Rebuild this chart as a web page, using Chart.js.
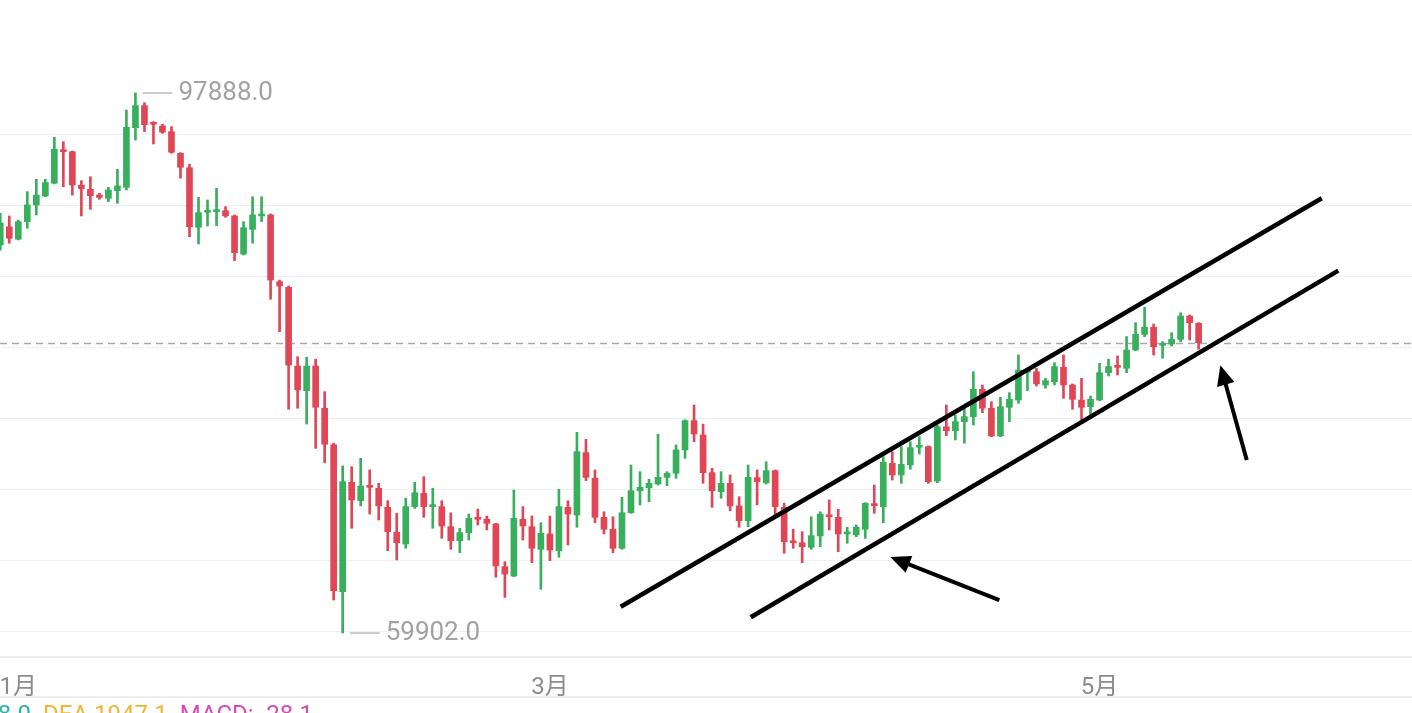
<!DOCTYPE html>
<html>
<head>
<meta charset="utf-8">
<script src="https://cdn.jsdelivr.net/npm/chart.js@4.4.1/dist/chart.umd.min.js"></script>
<style>
  html, body { margin: 0; padding: 0; background: #fff; }
  #wrap { width: 1412px; height: 713px; position: relative; }
</style>
</head>
<body>
<div id="wrap"><canvas id="kline"></canvas></div>
<script>
// daily candles, first one is 2 days before Jan 1
const firstDay = -2;
const opens = [87200,88480,87600,88840,90010,90640,91540,93880,93760,91400,91110,90710,90480,91020,91250,95450,97000,95760,95570,95170,
  93650,92630,88440,89500,89540,89610,89240,86560,88300,89240,89310,84610,84220,78680,76950,78680,75710,73130,62810,70500,
  69210,70240,70080,68740,66990,66160,68790,69730,68790,68790,67380,66390,66960,68040,67900,67570,64570,63910,67900,67380,
  65790,66870,65690,68740,68200,72590,70780,68040,67200,65860,68360,69910,70120,70380,70850,71140,72780,74840,73830,71180,
  69840,70430,68840,67800,70830,70470,71320,68740,66390,66250,65930,66730,68200,68040,66870,66800,67200,68980,68790,71840,
  71020,71720,72970,73010,70590,74410,74130,74770,75120,77050,75710,73760,75780,76290,78240,78280,77350,77580,78590,77350,
  76290,75820,76290,78210,78680,78520,79810,80910,81410,80140,80230,80560,82200,81690];
const highs = [89430,89240,88950,90950,91820,91820,94770,94460,93800,91720,92000,90830,91250,92520,96690,97888,97210,95870,95690,95520,
  93690,92870,90550,90360,91180,89890,89310,88840,90590,90590,89380,84730,84310,79340,79300,79160,76880,73250,71650,71600,
  72190,71370,70430,69210,68320,69380,70500,70900,70080,69210,68360,67270,68270,68620,68130,67620,64920,69960,68790,68130,
  67660,68130,70010,69210,74020,73530,71370,68430,68080,69450,71720,71250,70710,73880,71250,73130,74900,75940,74600,71490,
  71250,71020,69490,71720,71370,71950,71370,69030,67200,67030,68080,68430,69260,68600,67340,67500,69060,70310,72300,72660,
  73010,73360,73710,73060,74530,75940,75240,75820,78280,77350,76170,76480,76810,79460,78400,78520,77820,78920,79460,77420,
  77820,76570,78870,79160,79390,80750,81730,82810,81640,80390,81030,82430,82270,81730];
const lows = [86840,87320,87550,88370,89310,90590,91490,91300,90710,89240,89710,90410,90240,90130,91060,94580,95170,94300,95050,93650,
  91890,87780,87270,88530,88550,89140,86090,86490,87320,88840,83380,81100,75640,75710,74600,72890,71880,62220,59902,67270,
  68840,68270,67850,65690,65040,65860,68670,68040,67270,66560,65790,65550,66440,67500,67150,63820,62410,63860,66440,64850,
  62980,64990,65230,66090,67340,70620,67660,66870,65550,65790,68320,68910,69140,70310,70260,70780,72190,73360,70430,68740,
  69380,68500,67340,67380,68910,70380,68200,65510,65860,64850,65790,65970,67150,65620,66210,66680,66560,68320,67660,70660,
  70430,71420,72490,70430,70470,73780,73480,73250,74530,75400,73710,73710,74770,76060,76950,77280,77120,77350,76410,75640,
  74890,75240,76240,77980,78050,78210,79760,80750,79460,79230,80090,80390,80510,79860];
const closes = [88740,87670,88840,90010,90710,91580,93930,93760,91420,91160,90660,90550,91060,91350,95480,97000,95660,95690,95140,93720,
  92660,88480,89470,89610,89660,89240,86650,88410,89310,89360,84730,84310,78750,77000,78680,75780,73180,62880,70550,69260,
  70240,70150,68840,67030,66250,68790,69770,68790,68910,67430,66390,66960,67970,67900,67620,64620,64050,67970,67430,65860,
  66920,65740,68790,68270,72660,70850,68040,67200,65860,68360,69910,70150,70430,70850,71140,72780,74840,73900,71180,69910,
  70430,68840,67800,70850,70550,71320,68790,66320,66250,65970,66750,68270,68080,66870,66960,67340,69030,68860,71910,71020,
  71770,72940,73060,70550,74410,74130,74770,75120,77050,75710,73760,75820,76340,78400,78350,77420,77650,78640,77350,76340,
  75780,76340,78210,78640,78590,79810,80910,81410,80040,80230,80560,82200,81730,80323];

// x axis: day number counted from Jan 1
const monthTicks = [0, 59, 120];
const monthLabels = ["1月", "3月", "5月"];
const gridLevels = [60000, 65000, 70000, 75000, 80000, 85000, 90000, 95000];

// hand drawn channel and arrows, in (day, price)
const channelUpper = [{x: 66.86, y: 61750}, {x: 144.66, y: 90480}];
const channelLower = [{x: 81.29, y: 61010}, {x: 146.50, y: 85390}];
const arrowLeft = [{x: 108.88, y: 62220}, {x: 97.30, y: 65110}];
const arrowRight = [{x: 136.34, y: 72070}, {x: 133.56, y: 78400}];

const macdText = [
  { text: "DIF 1918.0", color: "#2bb3a3" },
  { text: "DEA 1947.1", color: "#f2b632" },
  { text: "MACD: -28.1", color: "#d849b4" }
];

const GREEN = "#37af5c", RED = "#e14656";
const FONT = 'Roboto, "Noto Sans CJK SC", sans-serif';

const xs = opens.map((_, i) => firstDay + i);
const colors = opens.map((o, i) => closes[i] >= o ? GREEN : RED);
const bodies = xs.map((x, i) => ({ x, y: [opens[i], closes[i]] }));
const wicks = xs.map((x, i) => ({ x, y: [lows[i], highs[i]] }));

const overlay = {
  id: "overlay",
  beforeDatasetsDraw(chart) {
    const { ctx, chartArea, scales: { y } } = chart;
    const py = Math.round(y.getPixelForValue(closes[closes.length - 1])) + 0.5;
    ctx.save();
    ctx.strokeStyle = "#a8a8a8";
    ctx.lineWidth = 1.5;
    ctx.setLineDash([7, 5]);
    ctx.beginPath();
    ctx.moveTo(chartArea.left, py);
    ctx.lineTo(chartArea.right, py);
    ctx.stroke();
    ctx.restore();
  },
  afterDatasetsDraw(chart) {
    const { ctx, scales: { x, y } } = chart;
    // arrow heads
    chart.data.datasets.forEach((ds, i) => {
      if (!ds.arrow) return;
      const pts = chart.getDatasetMeta(i).data;
      const a = pts[0], b = pts[1];
      const ang = Math.atan2(b.y - a.y, b.x - a.x);
      const tx = b.x + Math.cos(ang) * 5, ty = b.y + Math.sin(ang) * 5;
      const len = 20, half = 9;
      const bx = tx - Math.cos(ang) * len, by = ty - Math.sin(ang) * len;
      ctx.save();
      ctx.fillStyle = "#000";
      ctx.beginPath();
      ctx.moveTo(tx, ty);
      ctx.lineTo(bx - Math.sin(ang) * half, by + Math.cos(ang) * half);
      ctx.lineTo(bx + Math.sin(ang) * half, by - Math.cos(ang) * half);
      ctx.closePath();
      ctx.fill();
      ctx.restore();
    });
    // max / min labels
    const hi = highs.indexOf(Math.max(...highs));
    const lo = lows.indexOf(Math.min(...lows));
    const marks = [[xs[hi], highs[hi]], [xs[lo], lows[lo]]];
    ctx.save();
    ctx.font = "26px " + FONT;
    ctx.textBaseline = "middle";
    ctx.fillStyle = "#a2a2a2";
    ctx.strokeStyle = "#bdbdbd";
    ctx.lineWidth = 1.5;
    marks.forEach(([d, v]) => {
      const px = x.getPixelForValue(d), py = y.getPixelForValue(v);
      ctx.beginPath();
      ctx.moveTo(px + 7, py);
      ctx.lineTo(px + 37, py);
      ctx.stroke();
      ctx.fillText(v.toFixed(1), px + 43, py + 1);
    });
    ctx.restore();
  },
  afterDraw(chart) {
    const { ctx, chartArea, width } = chart;
    const ly = chartArea.bottom + 40;
    ctx.save();
    ctx.strokeStyle = "#eeeeee";
    ctx.lineWidth = 2;
    ctx.beginPath();
    ctx.moveTo(0, ly);
    ctx.lineTo(width, ly);
    ctx.stroke();
    ctx.font = "24px " + FONT;
    ctx.textBaseline = "top";
    let cx = 31 - ctx.measureText(macdText[0].text).width;
    macdText.forEach(t => {
      ctx.fillStyle = t.color;
      ctx.fillText(t.text, cx, ly + 7);
      cx += ctx.measureText(t.text).width + 12;
    });
    ctx.restore();
  }
};

function lineSet(data, arrow) {
  return { type: "line", data, borderColor: "#000", borderWidth: arrow ? 4 : 4.5, pointRadius: 0,
    borderCapStyle: "butt", order: 0, arrow };
}

new Chart(document.getElementById("kline"), {
  type: "bar",
  data: {
    datasets: [
      lineSet(channelUpper, false),
      lineSet(channelLower, false),
      lineSet(arrowLeft, true),
      lineSet(arrowRight, true),
      { data: bodies, backgroundColor: colors, barThickness: 6, minBarLength: 2, grouped: false, order: 1 },
      { data: wicks, backgroundColor: colors, barThickness: 2, grouped: false, order: 2 }
    ]
  },
  options: {
    responsive: true,
    maintainAspectRatio: false,
    animation: false,
    events: [],
    layout: { padding: 0, autoPadding: false },
    plugins: { legend: { display: false }, tooltip: { enabled: false } },
    scales: {
      x: {
        type: "linear",
        offset: false,
        min: -2.031,
        max: 154.68,
        grid: { display: false },
        border: { display: true, color: "#eeeeee", width: 2 },
        afterFit: s => { s.height = 56; s.paddingLeft = 0; s.paddingRight = 0; },
        afterBuildTicks: s => { s.ticks = monthTicks.map(v => ({ value: v })); },
        ticks: {
          autoSkip: false,
          maxRotation: 0,
          padding: 9,
          color: "#8c8c8c",
          font: { size: 24, family: FONT },
          callback: v => monthLabels[monthTicks.indexOf(v)]
        }
      },
      y: {
        min: 58213,
        max: 104430,
        position: "right",
        grid: { color: "#f0f0f0", lineWidth: 1, drawTicks: false },
        border: { display: false },
        afterFit: s => { s.width = 0; s.paddingTop = 0; s.paddingBottom = 0; },
        afterBuildTicks: s => { s.ticks = gridLevels.map(v => ({ value: v })); },
        ticks: { display: false }
      }
    }
  },
  plugins: [overlay]
});
</script>
</body>
</html>
